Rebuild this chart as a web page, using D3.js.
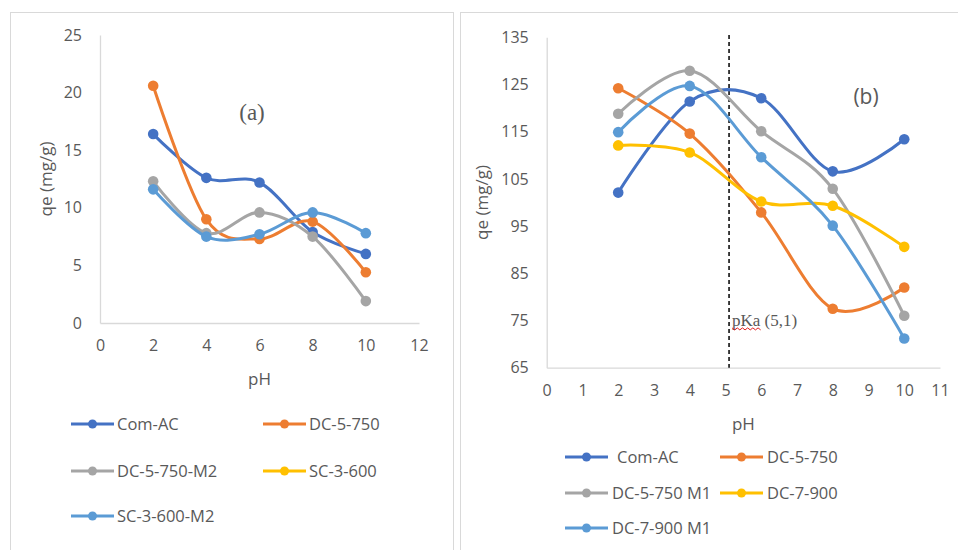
<!DOCTYPE html>
<html>
<head>
<meta charset="utf-8">
<script src="https://cdn.jsdelivr.net/npm/d3@7"></script>
<style>
  body { margin: 0; background: #fff; }
  svg text { font-family: "Open Sans", "Liberation Sans", sans-serif; fill: #595959; }
</style>
</head>
<body>
<svg id="chart" width="958" height="550"></svg>
<script>
// pH values used in both panels
const pH = [2, 4, 6, 8, 10];

// Panel (a) series
const namesA = ["Com-AC", "DC-5-750", "DC-5-750-M2", "SC-3-600", "SC-3-600-M2"];
const comAcA = [16.4, 12.6, 12.2, 7.9, 6.0];
const dc5750A = [20.6, 9.0, 7.3, 8.8, 4.4];
const dc5750M2A = [12.3, 7.8, 9.6, 7.5, 1.9];
const sc3600A = []; // in legend only, no points drawn
const sc3600M2A = [11.6, 7.5, 7.7, 9.6, 7.8];
const yTicksA = [0, 5, 10, 15, 20, 25];
const xTicksA = [0, 2, 4, 6, 8, 10, 12];

// Panel (b) series
const namesB = ["Com-AC", "DC-5-750", "DC-5-750 M1", "DC-7-900", "DC-7-900 M1"];
const comAcB = [102.1, 121.4, 122.1, 106.6, 113.4];
const dc5750B = [124.2, 114.6, 97.9, 77.5, 82.0];
const dc5750M1B = [118.8, 127.9, 115.1, 102.9, 76.0];
const dc7900B = [112.1, 110.6, 100.2, 99.3, 90.6];
const dc7900M1B = [114.9, 124.7, 109.6, 95.1, 71.2];
const yTicksB = [65, 75, 85, 95, 105, 115, 125, 135];
const xTicksB = [0, 1, 2, 3, 4, 5, 6, 7, 8, 9, 10, 11];
const pKa = 5.1;

const colors = ["#4472C4", "#ED7D31", "#A5A5A5", "#FFC000", "#5B9BD5"];

const svg = d3.select("#chart");

// panel frames
svg.append("rect").attr("x", 10.5).attr("y", 12.5).attr("width", 443).attr("height", 560)
    .attr("fill", "none").attr("stroke", "#d9d9d9");
svg.append("rect").attr("x", 460.5).attr("y", 12.5).attr("width", 520).attr("height", 560)
    .attr("fill", "none").attr("stroke", "#d9d9d9");

function drawPanel(cfg) {
    const x = d3.scaleLinear().domain(cfg.xDomain).range([cfg.left, cfg.right]);
    const y = d3.scaleLinear().domain(cfg.yDomain).range([cfg.bottom, cfg.top]);
    const g = svg.append("g");

    // axes
    const yAxis = g.append("g").attr("transform", `translate(${cfg.left},0)`)
        .call(d3.axisLeft(y).tickValues(cfg.yTicks).tickSize(0).tickPadding(18));
    const xAxis = g.append("g").attr("transform", `translate(0,${cfg.bottom})`)
        .call(d3.axisBottom(x).tickValues(cfg.xTicks).tickSize(0).tickPadding(17));
    [xAxis, yAxis].forEach(a => {
        a.select(".domain").attr("stroke", "#d9d9d9").attr("stroke-width", 1.3);
        a.selectAll("text").style("font-size", "16px").attr("fill", "#595959");
    });

    // axis titles
    g.append("text").attr("x", (cfg.left + cfg.right) / 2).attr("y", cfg.bottom + 62)
        .attr("text-anchor", "middle").style("font-size", "17px").text("pH");
    g.append("text")
        .attr("transform", `translate(${cfg.yTitleX},${(cfg.top + cfg.bottom) / 2}) rotate(-90)`)
        .attr("text-anchor", "middle").style("font-size", "17px").text("qe (mg/g)");

    if (cfg.extra) cfg.extra(g, x, y);

    const line = d3.line().x((d, i) => x(pH[i])).y(d => y(d))
        .curve(d3.curveCatmullRom.alpha(0));

    cfg.series.forEach((s, k) => {
        if (!s.length) return;
        g.append("path").datum(s).attr("d", line)
            .attr("fill", "none").attr("stroke", colors[k]).attr("stroke-width", 3);
        g.selectAll(null).data(s).enter().append("circle")
            .attr("cx", (d, i) => x(pH[i])).attr("cy", d => y(d)).attr("r", 5.3)
            .attr("fill", colors[k]);
    });

    // legend
    cfg.names.forEach((n, k) => {
        const col = k % 2, row = Math.floor(k / 2);
        const lx = cfg.legX[col], ly = cfg.legY[row];
        g.append("line").attr("x1", lx).attr("x2", lx + 43).attr("y1", ly).attr("y2", ly)
            .attr("stroke", colors[k]).attr("stroke-width", 3);
        g.append("circle").attr("cx", lx + 21.5).attr("cy", ly).attr("r", 4.5).attr("fill", colors[k]);
        g.append("text").attr("x", lx + cfg.legTextDx[k]).attr("y", ly).attr("dy", "0.35em")
            .style("font-size", "16.5px").text(n);
    });

    g.append("text").attr("x", cfg.label.x).attr("y", cfg.label.y).attr("text-anchor", "middle")
        .attr("dy", "0.35em").style("font-family", cfg.label.font).style("font-size", cfg.label.size)
        .attr("fill", "#000").text(cfg.label.text);
}

drawPanel({
    xDomain: [0, 12], yDomain: [0, 25], left: 100, right: 419, top: 35, bottom: 323,
    xTicks: xTicksA, yTicks: yTicksA, yTitleX: 52,
    series: [comAcA, dc5750A, dc5750M2A, sc3600A, sc3600M2A],
    names: namesA, legX: [71, 263], legY: [424, 471, 516], legTextDx: [46, 46, 46, 46, 46],
    label: { text: "(a)", x: 252, y: 112, size: "23px", font: "'Liberation Serif', 'DejaVu Serif', serif" }
});

drawPanel({
    xDomain: [0, 11], yDomain: [65, 135], left: 546.7, right: 940, top: 37.3, bottom: 367.7,
    xTicks: xTicksB, yTicks: yTicksB, yTitleX: 488,
    series: [comAcB, dc5750B, dc5750M1B, dc7900B, dc7900M1B],
    names: namesB, legX: [565, 720], legY: [457, 493, 528], legTextDx: [52, 47, 47, 47, 47],
    label: { text: "(b)", x: 866, y: 97, size: "21px", font: "'Open Sans', sans-serif" },
    extra: (g, x, y) => {
        // pKa marker
        g.append("line").attr("x1", x(pKa)).attr("x2", x(pKa)).attr("y1", 35).attr("y2", y(65))
            .attr("stroke", "#000").attr("stroke-width", 1.5).attr("stroke-dasharray", "4,3");
        g.append("text").attr("x", x(pKa) + 3).attr("y", 326)
            .style("font-family", "'Liberation Serif', serif").style("font-size", "17px")
            .attr("fill", "#000").text("pKa (5,1)");
        // spell-check squiggle under "pKa"
        const sx = x(pKa) + 3, sy = 328.5;
        const pts = d3.range(0, 12).map(i => [sx + i * 2.6, sy + (i % 2 ? 1.4 : -0.6)]);
        g.append("path").attr("d", d3.line()(pts)).attr("fill", "none")
            .attr("stroke", "#e02020").attr("stroke-width", 1);
    }
});
</script>
</body>
</html>
